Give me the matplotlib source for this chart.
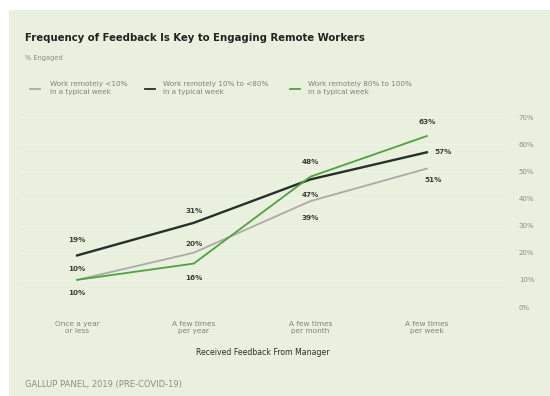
import matplotlib
matplotlib.use("Agg")
import matplotlib.pyplot as plt
from matplotlib.patches import Rectangle
from matplotlib.lines import Line2D

plt.rcParams['font.family'] = ['DejaVu Sans']

categories = ["Once a year\nor less", "A few times\nper year", "A few times\nper month", "A few times\nper week"]
series_names = ["Work remotely <10%\nin a typical week",
                "Work remotely 10% to <80%\nin a typical week",
                "Work remotely 80% to 100%\nin a typical week"]
low_remote = [10, 20, 39, 51]
mid_remote = [19, 31, 47, 57]
high_remote = [10, 16, 48, 63]
y_ticks = [0, 10, 20, 30, 40, 50, 60, 70]
y_tick_labels = ["0%", "10%", "20%", "30%", "40%", "50%", "60%", "70%"]

W, H = 550, 396
BG = "#e9f0dd"
fig = plt.figure(figsize=(5.5, 3.96), dpi=100)
fig.patch.set_facecolor("white")
fig.patches.append(Rectangle((9 / W, 0), 1, 1 - 10 / H, transform=fig.transFigure,
                             facecolor=BG, edgecolor="none", zorder=-10))

def fx(px):
    return px / W

def fy(py):
    return 1 - py / H

# axes: x from 20 to 505 px, y 0% at 307 px, 70% at 117 px
ax = fig.add_axes([fx(20), fy(307), fx(505) - fx(20), fy(117) - fy(307)])
ax.set_facecolor("none")
ax.set_zorder(2)
ax.set_xlim(-0.49, 3.67)
ax.set_ylim(0, 70)
for s in ax.spines.values():
    s.set_visible(False)

x = list(range(len(categories)))
c_low, c_mid, c_high = "#a9aca6", "#26302a", "#52a043"
for yv in y_ticks:
    ax.axhline(yv, color="#eef4e6", lw=0.8, zorder=1)
ax.plot(x, low_remote, color=c_low, lw=1.3, zorder=3)
ax.plot(x, mid_remote, color=c_mid, lw=1.7, zorder=4)
ax.plot(x, high_remote, color=c_high, lw=1.3, zorder=5)

ax.yaxis.tick_right()
ax.set_yticks(y_ticks)
ax.set_yticklabels(y_tick_labels, fontsize=5, color="#8a8f88")
ax.tick_params(axis="y", length=0, pad=10)
ax.set_xticks(x)
ax.set_xticklabels(categories, fontsize=5.3, color="#7f847d", linespacing=1.25)
ax.tick_params(axis="x", length=0, pad=10)

lab_kw = dict(fontsize=5.2, fontweight="bold", color="#3a3f3a", ha="center", va="center",
              textcoords="offset pixels")
# offsets in pixels (dx, dy)
low_off = [(0, 11), (0, 9), (0, -17), (6, -11)]
mid_off = [(0, 15), (0, 12), (0, -16), (16, 0)]
high_off = [(0, -13), (0, -14), (0, 15), (0, 14)]
for vals, offs in ((low_remote, low_off), (mid_remote, mid_off), (high_remote, high_off)):
    for xi, v, (dx, dy) in zip(x, vals, offs):
        ax.annotate(f"{v}%", (xi, v), xytext=(dx, dy), **lab_kw)

ax.set_xlabel("Received Feedback From Manager", fontsize=5.6, color="#2a2f2a", labelpad=10)

# title and subtitle
fig.text(fx(25), fy(38), "Frequency of Feedback Is Key to Engaging Remote Workers",
         fontsize=7.3, fontweight="bold", color="#1f2420", va="center", ha="left")
fig.text(fx(25), fy(58), "% Engaged", fontsize=4.8, color="#8a8f88", va="center", ha="left")

# legend
leg_colors = [c_low, c_mid, c_high]
leg_x = [30, 145, 290]
leg_text_x = [50, 163, 308]
for col, lx, tx, name in zip(leg_colors, leg_x, leg_text_x, series_names):
    fig.add_artist(Line2D([fx(lx), fx(lx + 10)], [fy(89), fy(89)], color=col, lw=1.3,
                          transform=fig.transFigure))
    fig.text(fx(tx), fy(88), name, fontsize=5.2, color="#7f847d", va="center", ha="left",
             linespacing=1.25)

fig.text(fx(25), fy(385), "GALLUP PANEL, 2019 (PRE-COVID-19)", fontsize=6, color="#8a8f88",
         va="center", ha="left")

fig.savefig("out.png", dpi=100, facecolor=fig.get_facecolor())
